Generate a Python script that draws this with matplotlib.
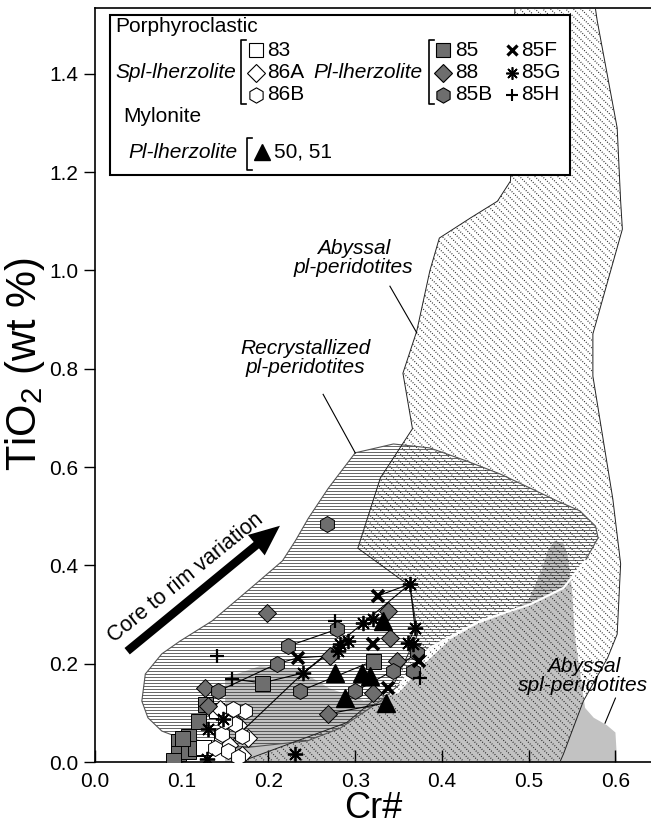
import matplotlib
matplotlib.use('Agg')
import matplotlib.pyplot as plt
from matplotlib.patches import Polygon, Rectangle, FancyArrowPatch
from matplotlib.lines import Line2D
import numpy as np

plt.rcParams['font.family'] = ['Liberation Sans', 'DejaVu Sans']
plt.rcParams['mathtext.default'] = 'regular'

# ---- data: Cr# and TiO2 (wt %) of spinel ----
# porphyroclastic spl-lherzolite
cr_83 = [0.125, 0.140, 0.145]
ti_83 = [0.030, 0.105, 0.050]
cr_86a = [0.144, 0.176, 0.165, 0.155, 0.170]
ti_86a = [0.108, 0.049, 0.075, 0.035, 0.015]
cr_86b = [0.173, 0.161, 0.170, 0.146, 0.138, 0.153, 0.150, 0.159, 0.165]
ti_86b = [0.104, 0.077, 0.053, 0.057, 0.028, 0.022, 0.083, 0.108, 0.010]
# porphyroclastic pl-lherzolite
cr_85 = [0.096, 0.107, 0.096, 0.107, 0.115, 0.100, 0.119, 0.127, 0.193, 0.320, 0.090]
ti_85 = [0.043, 0.053, 0.018, 0.022, 0.028, 0.049, 0.083, 0.118, 0.161, 0.205, 0.005]
cr_88 = [0.127, 0.130, 0.198, 0.271, 0.269, 0.338, 0.340, 0.320, 0.348]
ti_88 = [0.151, 0.114, 0.303, 0.216, 0.098, 0.307, 0.252, 0.140, 0.205]
cr_85b = [0.268, 0.142, 0.210, 0.223, 0.236, 0.279, 0.300, 0.343, 0.371, 0.367]
ti_85b = [0.484, 0.144, 0.200, 0.236, 0.144, 0.270, 0.144, 0.185, 0.222, 0.185]
cr_85f = [0.234, 0.326, 0.320, 0.338, 0.373]
ti_85f = [0.212, 0.338, 0.240, 0.151, 0.205]
cr_85g = [0.240, 0.283, 0.292, 0.280, 0.309, 0.320, 0.363, 0.369, 0.361, 0.367, 0.231, 0.130, 0.148, 0.129]
ti_85g = [0.181, 0.240, 0.246, 0.226, 0.283, 0.290, 0.362, 0.273, 0.242, 0.240, 0.016, 0.067, 0.087, 0.006]
cr_85h = [0.141, 0.158, 0.277, 0.375]
ti_85h = [0.216, 0.169, 0.287, 0.171]
# mylonite pl-lherzolite
cr_myl = [0.277, 0.308, 0.288, 0.317, 0.335, 0.332]
ti_myl = [0.181, 0.181, 0.130, 0.175, 0.120, 0.287]

# core-rim tie lines
tie_cr = [[0.142, 0.210], [0.210, 0.234, 0.271], [0.223, 0.279], [0.158, 0.193],
          [0.193, 0.240, 0.283], [0.150, 0.240, 0.363], [0.363, 0.369, 0.361],
          [0.326, 0.363], [0.236, 0.320], [0.269, 0.335], [0.300, 0.343, 0.371]]
tie_ti = [[0.144, 0.200], [0.200, 0.212, 0.216], [0.236, 0.270], [0.169, 0.161],
          [0.161, 0.181, 0.240], [0.030, 0.181, 0.362], [0.362, 0.273, 0.242],
          [0.338, 0.362], [0.144, 0.205], [0.098, 0.120], [0.144, 0.185, 0.222]]

# fields
recr_cr = [0.300, 0.344, 0.386, 0.429, 0.467, 0.502, 0.533, 0.559, 0.577, 0.580,
           0.565, 0.540, 0.502, 0.444, 0.386, 0.352, 0.329, 0.283, 0.245, 0.167,
           0.092, 0.077, 0.061, 0.054, 0.058, 0.077, 0.098, 0.135, 0.185, 0.216,
           0.231, 0.246, 0.269]
recr_ti = [0.629, 0.647, 0.639, 0.612, 0.586, 0.557, 0.531, 0.511, 0.480, 0.456,
           0.409, 0.354, 0.321, 0.287, 0.232, 0.159, 0.124, 0.069, 0.043, 0.028,
           0.053, 0.063, 0.090, 0.124, 0.179, 0.220, 0.246, 0.287, 0.362, 0.409,
           0.450, 0.496, 0.557]
abpl_cr = [0.484, 0.479, 0.464, 0.433, 0.397, 0.386, 0.371, 0.355, 0.366, 0.329,
           0.303, 0.363, 0.372, 0.345, 0.290, 0.167, 0.536, 0.540, 0.563, 0.591,
           0.602, 0.606, 0.597, 0.574, 0.574, 0.608, 0.606, 0.602, 0.579, 0.577]
abpl_ti = [1.532, 1.182, 1.141, 1.107, 1.066, 0.999, 0.877, 0.791, 0.678, 0.578,
           0.435, 0.358, 0.260, 0.160, 0.080, 0.000, 0.000, 0.016, 0.124, 0.212,
           0.260, 0.403, 0.535, 0.785, 0.871, 1.084, 1.141, 1.290, 1.508, 1.532]
absp_cr = [0.150, 0.190, 0.233, 0.270, 0.310, 0.350, 0.380, 0.410, 0.440, 0.470,
           0.500, 0.515, 0.522, 0.530, 0.540, 0.545, 0.550, 0.553, 0.565, 0.575,
           0.590, 0.600, 0.602, 0.150]
absp_ti = [0.171, 0.195, 0.190, 0.150, 0.125, 0.140, 0.200, 0.250, 0.280, 0.300,
           0.330, 0.390, 0.430, 0.450, 0.445, 0.420, 0.350, 0.260, 0.110, 0.090,
           0.075, 0.060, 0.000, 0.000]

W, H = 651, 830
fig = plt.figure(figsize=(W / 100, H / 100), dpi=100)
ax = fig.add_axes([95 / W, 1 - 762 / H, 556 / W, 754 / H])
ax.set_xlim(0, 0.641)
ax.set_ylim(0, 1.534)

# abyssal spl-peridotite field (solid grey)
ax.add_patch(Polygon(np.column_stack([absp_cr, absp_ti]), closed=True,
                     facecolor='#c2c2c2', edgecolor='none', zorder=1))

# recrystallized field: horizontal line fill
recr = Polygon(np.column_stack([recr_cr, recr_ti]), closed=True,
               facecolor='none', edgecolor='none', zorder=2)
ax.add_patch(recr)
for y in np.arange(0.003, 0.70, 0.0061):
    ln, = ax.plot([0, 0.7], [y, y], color='#3a3a3a', lw=0.55, zorder=2)
    ln.set_clip_path(recr)

# abyssal pl-peridotite field: dotted diagonal lines (45 deg on screen)
abpl = Polygon(np.column_stack([abpl_cr, abpl_ti]), closed=True,
               facecolor='none', edgecolor='none', zorder=3)
ax.add_patch(abpl)
k = 491.5 / 867
for c in np.arange(0.10, 1.60, 0.0088):
    ln, = ax.plot([c, c - 1.6 * k], [0, 1.6], color='#1a1a1a',
                  lw=0.9, ls=(0, (0.7, 1.3)), zorder=3)
    ln.set_clip_path(abpl)

# outlines
ax.plot(recr_cr + recr_cr[:1], recr_ti + recr_ti[:1], color='#555555', lw=0.8, zorder=4)
ax.plot(recr_cr[10:16], recr_ti[10:16], color='white', lw=1.6, zorder=4)
ax.plot(abpl_cr[:16], abpl_ti[:16], color='#222222', lw=0.7, zorder=4)
ax.plot(abpl_cr[16:], abpl_ti[16:], color='#222222', lw=0.7, zorder=4)

# tie lines
for xs, ys in zip(tie_cr, tie_ti):
    ax.plot(xs, ys, color='black', lw=0.8, zorder=5)

gray = '#6e6e6e'
ax.plot(cr_85, ti_85, 's', ms=10.8, mfc=gray, mec='black', mew=0.7, ls='none', zorder=6)
ax.plot(cr_83, ti_83, 's', ms=10.8, mfc='white', mec='black', mew=0.7, ls='none', zorder=6)
ax.plot(cr_86a, ti_86a, 'D', ms=9.2, mfc='white', mec='black', mew=0.7, ls='none', zorder=7)
ax.plot(cr_86b, ti_86b, 'h', ms=11.5, mfc='white', mec='black', mew=0.7, ls='none', zorder=7)
ax.plot(cr_88, ti_88, 'D', ms=9.2, mfc=gray, mec='black', mew=0.7, ls='none', zorder=7)
ax.plot(cr_85b, ti_85b, 'h', ms=11.5, mfc=gray, mec='black', mew=0.7, ls='none', zorder=7)
ax.plot(cr_myl, ti_myl, '^', ms=12.5, mfc='black', mec='black', ls='none', zorder=8)
ax.plot(cr_85f, ti_85f, 'x', ms=8, mec='black', mew=2.6, ls='none', zorder=9)
ax.plot(cr_85g, ti_85g, marker=(8, 2, 0), ms=11, mec='black', mew=1.3, ls='none', zorder=9)
ax.plot(cr_85h, ti_85h, '+', ms=10, mec='black', mew=1.6, ls='none', zorder=9)

# field labels
ax.text(0.298, 1.025, 'Abyssal\npl-peridotites', style='italic', fontsize=15,
        ha='center', va='center', linespacing=1.0, zorder=10)
ax.plot([0.340, 0.371], [0.968, 0.873], color='black', lw=0.8, zorder=10)
ax.text(0.243, 0.822, 'Recrystallized\npl-peridotites', style='italic', fontsize=15,
        ha='center', va='center', linespacing=1.0, zorder=10)
ax.plot([0.263, 0.300], [0.748, 0.629], color='black', lw=0.8, zorder=10)
ax.text(0.563, 0.175, 'Abyssal\nspl-peridotites', style='italic', fontsize=15,
        ha='center', va='center', linespacing=1.0, zorder=10)
ax.plot([0.600, 0.588], [0.130, 0.079], color='black', lw=0.8, zorder=10)

# core to rim arrow
ax.add_patch(FancyArrowPatch((0.0346, 0.2218), (0.2157, 0.4842),
                             arrowstyle='simple,head_width=1.9,head_length=2.2,tail_width=0.6',
                             mutation_scale=10, color='black', lw=0, zorder=10))
ax.text(0.104, 0.375, 'Core to rim variation', rotation=39, rotation_mode='anchor',
        fontsize=15.5, ha='center', va='center', zorder=10)

# axes styling
ax.set_xticks([0.0, 0.1, 0.2, 0.3, 0.4, 0.5, 0.6])
ax.set_xticklabels(['0.0', '0.1', '0.2', '0.3', '0.4', '0.5', '0.6'])
ax.set_yticks([0.0, 0.2, 0.4, 0.6, 0.8, 1.0, 1.2, 1.4])
ax.set_yticklabels(['0.0', '0.2', '0.4', '0.6', '0.8', '1.0', '1.2', '1.4'])
ax.tick_params(axis='x', direction='in', length=9, width=1, labelsize=15, pad=7)
ax.tick_params(axis='y', direction='out', length=8, width=1, labelsize=15, pad=4)
ax.spines['right'].set_visible(False)
for s in ['left', 'bottom', 'top']:
    ax.spines[s].set_linewidth(1.2)
ax.set_xlabel('Cr#', fontsize=26, labelpad=0)
ax.set_ylabel('TiO$_2$ (wt %)', fontsize=30)
ax.yaxis.set_label_coords(-0.087, 0.527)


# ---- legend box (figure pixel coordinates) ----
def P(px, py):
    return px / W, 1 - py / H


fig.patches.append(Rectangle(P(110, 175), 460 / W, 160 / H, transform=fig.transFigure,
                             facecolor='white', edgecolor='black', lw=1.5, zorder=20))


def ftext(px, py, s, **kw):
    fig.text(*P(px, py), s, fontsize=15, va='center', zorder=21, **kw)


def fmark(px, py, **kw):
    x, y = P(px, py)
    fig.lines.append(Line2D([x], [y], transform=fig.transFigure, ls='none', zorder=21, **kw))


def bracket(px, py0, py1):
    x0, y0 = P(px, py0)
    x1, y1 = P(px + 5, py1)
    fig.lines.append(Line2D([x1, x0, x0, x1], [y0, y0, y1, y1], transform=fig.transFigure,
                            color='black', lw=1.2, zorder=21))


ftext(115, 27, 'Porphyroclastic')
ftext(115, 72, 'Spl-lherzolite', style='italic')
bracket(241, 40, 104)
fmark(256, 50, marker='s', ms=10, mfc='white', mec='black', mew=0.8)
fmark(256, 73, marker='D', ms=9, mfc='white', mec='black', mew=0.8)
fmark(256, 95, marker='h', ms=11, mfc='white', mec='black', mew=0.8)
ftext(267, 50, '83')
ftext(267, 73, '86A')
ftext(267, 95, '86B')
ftext(313, 72, 'Pl-lherzolite', style='italic')
bracket(429, 40, 104)
fmark(443, 50, marker='s', ms=10, mfc=gray, mec='black', mew=0.8)
fmark(443, 73, marker='D', ms=9, mfc=gray, mec='black', mew=0.8)
fmark(443, 95, marker='h', ms=11, mfc=gray, mec='black', mew=0.8)
ftext(455, 50, '85')
ftext(455, 73, '88')
ftext(455, 95, '85B')
fmark(512, 50, marker='x', ms=6.5, mec='black', mew=2.3)
fmark(512, 73, marker=(8, 2, 0), ms=9, mec='black', mew=1.2)
fmark(512, 95, marker='+', ms=9, mec='black', mew=1.5)
ftext(521, 50, '85F')
ftext(521, 73, '85G')
ftext(521, 95, '85H')
ftext(123, 117, 'Mylonite')
ftext(128, 152, 'Pl-lherzolite', style='italic')
bracket(247, 138, 170)
fmark(262, 152, marker='^', ms=11, mfc='black', mec='black')
ftext(274, 152, '50, 51')

fig.savefig('out.png', dpi=100)
